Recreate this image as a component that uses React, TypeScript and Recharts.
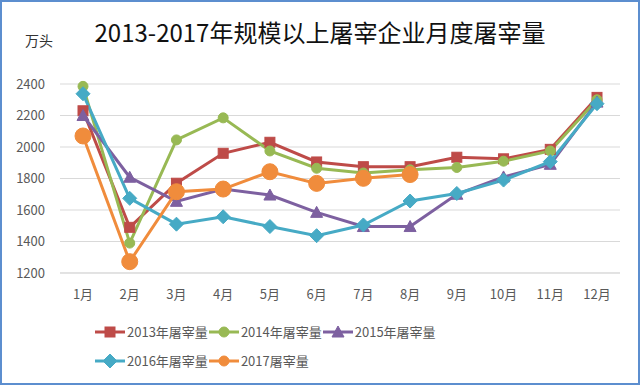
import React from "react";
import { LineChart, Line, XAxis, YAxis, CartesianGrid } from "recharts";

const months = ["1月", "2月", "3月", "4月", "5月", "6月", "7月", "8月", "9月", "10月", "11月", "12月"];
const yTicks = [1200, 1400, 1600, 1800, 2000, 2200, 2400];

const y2013 = [2230, 1490, 1770, 1960, 2030, 1905, 1875, 1875, 1935, 1925, 1985, 2315];
const y2014 = [2385, 1390, 2045, 2185, 1975, 1865, 1835, 1855, 1870, 1910, 1975, 2300];
const y2015 = [2200, 1808, 1655, 1733, 1695, 1585, 1495, 1495, 1700, 1810, 1890, 2285];
const y2016 = [2338, 1674, 1510, 1557, 1495, 1437, 1505, 1657, 1705, 1790, 1907, 2275];
const y2017 = [2070, 1272, 1716, 1733, 1843, 1769, 1801, 1825, null, null, null, null];

const series = [
  { key: "s2013", name: "2013年屠宰量", color: "#BE4B48", shape: "square", values: y2013 },
  { key: "s2014", name: "2014年屠宰量", color: "#98B954", shape: "circle", values: y2014 },
  { key: "s2015", name: "2015年屠宰量", color: "#7D60A0", shape: "triangle", values: y2015 },
  { key: "s2016", name: "2016年屠宰量", color: "#46AAC5", shape: "diamond", values: y2016 },
  { key: "s2017", name: "2017屠宰量", color: "#F08C3C", shape: "bigcircle", values: y2017 },
];

const data = months.map((m, i) => {
  const row: Record<string, any> = { month: m };
  series.forEach((s) => (row[s.key] = s.values[i]));
  return row;
});

const FONT = "'Noto Sans CJK SC', 'Noto Sans', sans-serif";

function Marker({ cx, cy, shape, color }: { cx: number; cy: number; shape: string; color: string }) {
  if (cx == null || cy == null || isNaN(cx) || isNaN(cy)) return null;
  switch (shape) {
    case "square":
      return <rect x={cx - 5} y={cy - 5} width={10} height={10} fill={color} stroke={color} />;
    case "circle":
      return <circle cx={cx} cy={cy} r={5} fill={color} stroke={color} />;
    case "triangle":
      return <path d={`M${cx},${cy - 6} L${cx + 6},${cy + 5} L${cx - 6},${cy + 5} Z`} fill={color} stroke={color} />;
    case "diamond":
      return <path d={`M${cx},${cy - 7} L${cx + 7},${cy} L${cx},${cy + 7} L${cx - 7},${cy} Z`} fill={color} stroke={color} />;
    default:
      return <circle cx={cx} cy={cy} r={8} fill={color} stroke={color} />;
  }
}

function LegendItem({ s }: { s: (typeof series)[number] }) {
  return (
    <div style={{ display: "flex", alignItems: "center", height: 18 }}>
      <svg width={30} height={16}>
        <line x1={0} y1={8} x2={30} y2={8} stroke={s.color} strokeWidth={3} />
        <Marker cx={15} cy={8} shape={s.shape === "bigcircle" ? "circle" : s.shape} color={s.color} />
      </svg>
      <span style={{ fontSize: 13, lineHeight: "18px", color: "#595959", marginLeft: 2, marginRight: 1 }}>{s.name}</span>
    </div>
  );
}

export default function App() {
  return (
    <div
      style={{
        position: "absolute",
        left: 0,
        top: 0,
        width: 640,
        height: 385,
        background: "#fff",
        fontFamily: FONT,
        overflow: "hidden",
      }}
    >
      <div
        style={{
          position: "absolute",
          left: 0,
          top: 0,
          width: 636,
          height: 381,
          border: "2px solid #5C8ECF",
          pointerEvents: "none",
        }}
      />
      <div style={{ position: "absolute", top: 14, left: 0, width: 640, textAlign: "center", fontSize: 24, color: "#111" }}>
        2013-2017年规模以上屠宰企业月度屠宰量
      </div>
      <div style={{ position: "absolute", top: 30, left: 25, fontSize: 14, color: "#333" }}>万头</div>

      <LineChart width={640} height={385} data={data} margin={{ top: 84, right: 20, left: 0, bottom: 82 }}>
        <CartesianGrid horizontal vertical={false} stroke="#d9d9d9" strokeWidth={1} />
        <XAxis
          dataKey="month"
          axisLine={{ stroke: "#d9d9d9" }}
          tickLine={false}
          tickMargin={11}
          height={30}
          padding={{ left: 23, right: 23 }}
          tick={{ fill: "#595959", fontSize: 13, fontFamily: FONT }}
          interval={0}
        />
        <YAxis
          domain={[1200, 2400]}
          ticks={yTicks}
          axisLine={false}
          tickLine={false}
          width={60}
          tickMargin={9}
          tick={{ fill: "#595959", fontSize: 13, fontFamily: FONT }}
        />
        {series.map((s) => (
          <Line
            key={s.key}
            type="linear"
            dataKey={s.key}
            name={s.name}
            stroke={s.color}
            strokeWidth={3}
            isAnimationActive={false}
            connectNulls={false}
            dot={(p: any) => <Marker key={`${s.key}-${p.index}`} cx={p.cx} cy={p.cy} shape={s.shape} color={s.color} />}
            activeDot={false}
          />
        ))}
      </LineChart>

      <div style={{ position: "absolute", left: 95, top: 323, display: "flex" }}>
        {series.slice(0, 3).map((s) => (
          <LegendItem key={s.key} s={s} />
        ))}
      </div>
      <div style={{ position: "absolute", left: 95, top: 352, display: "flex" }}>
        {series.slice(3).map((s) => (
          <LegendItem key={s.key} s={s} />
        ))}
      </div>
    </div>
  );
}
